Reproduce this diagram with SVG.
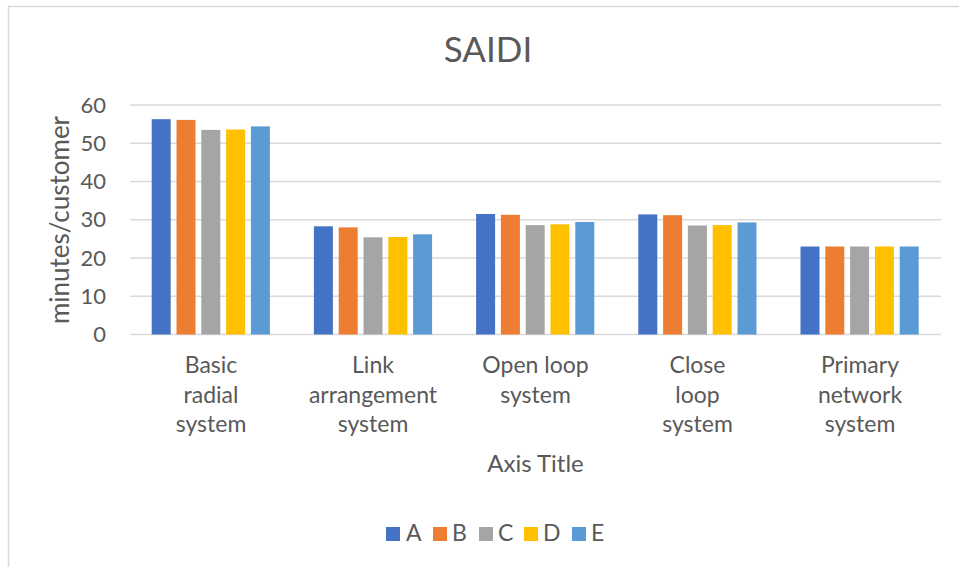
<svg xmlns="http://www.w3.org/2000/svg" width="959" height="567" viewBox="0 0 959 567">
<style>
text{font-family:Lato,"Liberation Sans",sans-serif;fill:#595959}
.t{font-size:23px}
.tick{font-size:22px;text-anchor:end}
.cat{font-size:23px;text-anchor:middle}
.grid{stroke:#d9d9d9;stroke-width:1.3}
.a{fill:#4472C4}.b{fill:#ED7D31}.c{fill:#A5A5A5}.d{fill:#FFC000}.e{fill:#5B9BD5}
</style>
<rect width="959" height="567" fill="#fff"/>
<path d="M8.5 567 V6.5 H959" fill="none" stroke="#d9d9d9" stroke-width="1.5"/>
<text id="title" x="488" y="62" font-size="35" text-anchor="middle">SAIDI</text>
<g id="gridlines">
<line class="grid" x1="130" y1="105" x2="941" y2="105"/>
<line class="grid" x1="130" y1="143.25" x2="941" y2="143.25"/>
<line class="grid" x1="130" y1="181.5" x2="941" y2="181.5"/>
<line class="grid" x1="130" y1="219.75" x2="941" y2="219.75"/>
<line class="grid" x1="130" y1="258" x2="941" y2="258"/>
<line class="grid" x1="130" y1="296.25" x2="941" y2="296.25"/>
<line class="grid" x1="130" y1="334.5" x2="941" y2="334.5"/>
</g>
<g id="yaxis">
<text class="tick" x="106" y="112.5">60</text>
<text class="tick" x="106" y="150.8">50</text>
<text class="tick" x="106" y="189">40</text>
<text class="tick" x="106" y="227.3">30</text>
<text class="tick" x="106" y="265.5">20</text>
<text class="tick" x="106" y="303.8">10</text>
<text class="tick" x="106" y="342">0</text>
<text transform="translate(69,220) rotate(-90)" font-size="26" text-anchor="middle">minutes/customer</text>
</g>
<g id="bars">
<rect class="a" x="151.7" y="119.2" width="19" height="215.3"/>
<rect class="b" x="176.5" y="119.9" width="19" height="214.6"/>
<rect class="c" x="201.3" y="129.9" width="19" height="204.6"/>
<rect class="d" x="226.1" y="129.5" width="19" height="205"/>
<rect class="e" x="250.9" y="126.4" width="19" height="208.1"/>
<rect class="a" x="313.9" y="226.3" width="19" height="108.2"/>
<rect class="b" x="338.7" y="227.4" width="19" height="107.1"/>
<rect class="c" x="363.5" y="237.3" width="19" height="97.2"/>
<rect class="d" x="388.3" y="237" width="19" height="97.5"/>
<rect class="e" x="413.1" y="234.3" width="19" height="100.2"/>
<rect class="a" x="476.1" y="214" width="19" height="120.5"/>
<rect class="b" x="500.9" y="214.8" width="19" height="119.7"/>
<rect class="c" x="525.7" y="225.1" width="19" height="109.4"/>
<rect class="d" x="550.5" y="224.3" width="19" height="110.2"/>
<rect class="e" x="575.3" y="222" width="19" height="112.5"/>
<rect class="a" x="638.3" y="214.4" width="19" height="120.1"/>
<rect class="b" x="663.1" y="215.2" width="19" height="119.3"/>
<rect class="c" x="687.9" y="225.5" width="19" height="109"/>
<rect class="d" x="712.7" y="225.1" width="19" height="109.4"/>
<rect class="e" x="737.5" y="222.4" width="19" height="112.1"/>
<rect class="a" x="800.5" y="246.5" width="19" height="88"/>
<rect class="b" x="825.3" y="246.5" width="19" height="88"/>
<rect class="c" x="850.1" y="246.5" width="19" height="88"/>
<rect class="d" x="874.9" y="246.5" width="19" height="88"/>
<rect class="e" x="899.7" y="246.5" width="19" height="88"/>
</g>
<g id="categories">
<text class="cat" x="211" y="373">Basic</text>
<text class="cat" x="211" y="402.5">radial</text>
<text class="cat" x="211" y="432">system</text>
<text class="cat" x="373" y="373">Link</text>
<text class="cat" x="373" y="402.5">arrangement</text>
<text class="cat" x="373" y="432">system</text>
<text class="cat" x="535.5" y="373">Open loop</text>
<text class="cat" x="535.5" y="402.5">system</text>
<text class="cat" x="697.5" y="373">Close</text>
<text class="cat" x="697.5" y="402.5">loop</text>
<text class="cat" x="697.5" y="432">system</text>
<text class="cat" x="860" y="373">Primary</text>
<text class="cat" x="860" y="402.5">network</text>
<text class="cat" x="860" y="432">system</text>
<text x="535.5" y="472" font-size="24" text-anchor="middle">Axis Title</text>
</g>
<g id="legend">
<rect class="a" x="386" y="527" width="14" height="14"/><text class="t" x="406" y="541">A</text>
<rect class="b" x="433" y="527" width="14" height="14"/><text class="t" x="452" y="541">B</text>
<rect class="c" x="479" y="527" width="14" height="14"/><text class="t" x="498" y="541">C</text>
<rect class="d" x="524" y="527" width="14" height="14"/><text class="t" x="543" y="541">D</text>
<rect class="e" x="572" y="527" width="14" height="14"/><text class="t" x="591" y="541">E</text>
</g>
</svg>
